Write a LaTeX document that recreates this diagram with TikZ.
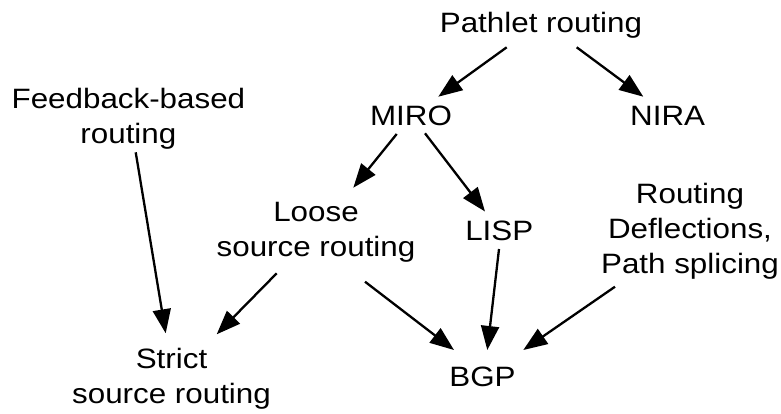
\documentclass[tikz,border=0pt]{standalone}
\usepackage{fontspec}
\setmainfont[FakeStretch=1.12]{Liberation Sans}
\usetikzlibrary{arrows.meta}
\begin{document}
\begin{tikzpicture}[x=1pt,y=-1pt,
  label/.style={inner sep=0pt,anchor=base,align=center,
    font=\fontsize{28}{35}\selectfont},
  link/.style={line width=2.3pt,-{Triangle[length=24pt,width=18pt]}}]
\useasboundingbox (0,0) rectangle (781,413);

% routing schemes (base = baseline of the last line)
\node[label] (pathlet) at (541,32) {Pathlet routing};
\node[label] (miro) at (411,125) {MIRO};
\node[label] (nira) at (667.7,125) {NIRA};
\node[label] (feedback) at (128.4,143.3) {Feedback-based\\routing};
\node[label] (loose) at (316,256.7) {Loose\\source routing};
\node[label] (lisp) at (499.3,240) {LISP};
\node[label] (deflect) at (690,273.3) {Routing\\Deflections,\\Path splicing};
\node[label] (strict) at (171.5,403.3) {Strict\\source routing};
\node[label] (bgp) at (482.5,386.7) {BGP};

% relations between them
\draw[link] ([shift={(-34.3,15.3)}]pathlet.base) -- ([shift={(27.3,-28.3)}]miro.base);
\draw[link] ([shift={(35.7,15.3)}]pathlet.base) -- ([shift={(-24.4,-28.3)}]nira.base);
\draw[link] ([shift={(-14.3,9)}]miro.base) -- ([shift={(37.3,-69)}]loose.base);
\draw[link] ([shift={(14,8.3)}]miro.base) -- ([shift={(-14.3,-28.5)}]lisp.base);
\draw[link] ([shift={(7.3,9)}]feedback.base) -- ([shift={(-5.8,-70)}]strict.base);
\draw[link] ([shift={(-39.3,16.6)}]loose.base) -- ([shift={(45.2,-69)}]strict.base);
\draw[link] ([shift={(49,25)}]loose.base) -- ([shift={(-28.5,-36.7)}]bgp.base);
\draw[link] ([shift={(-0.3,9)}]lisp.base) -- ([shift={(4.8,-36.7)}]bgp.base);
\draw[link] ([shift={(-75,13.4)}]deflect.base) -- ([shift={(40.8,-36.7)}]bgp.base);
\end{tikzpicture}
\end{document}
